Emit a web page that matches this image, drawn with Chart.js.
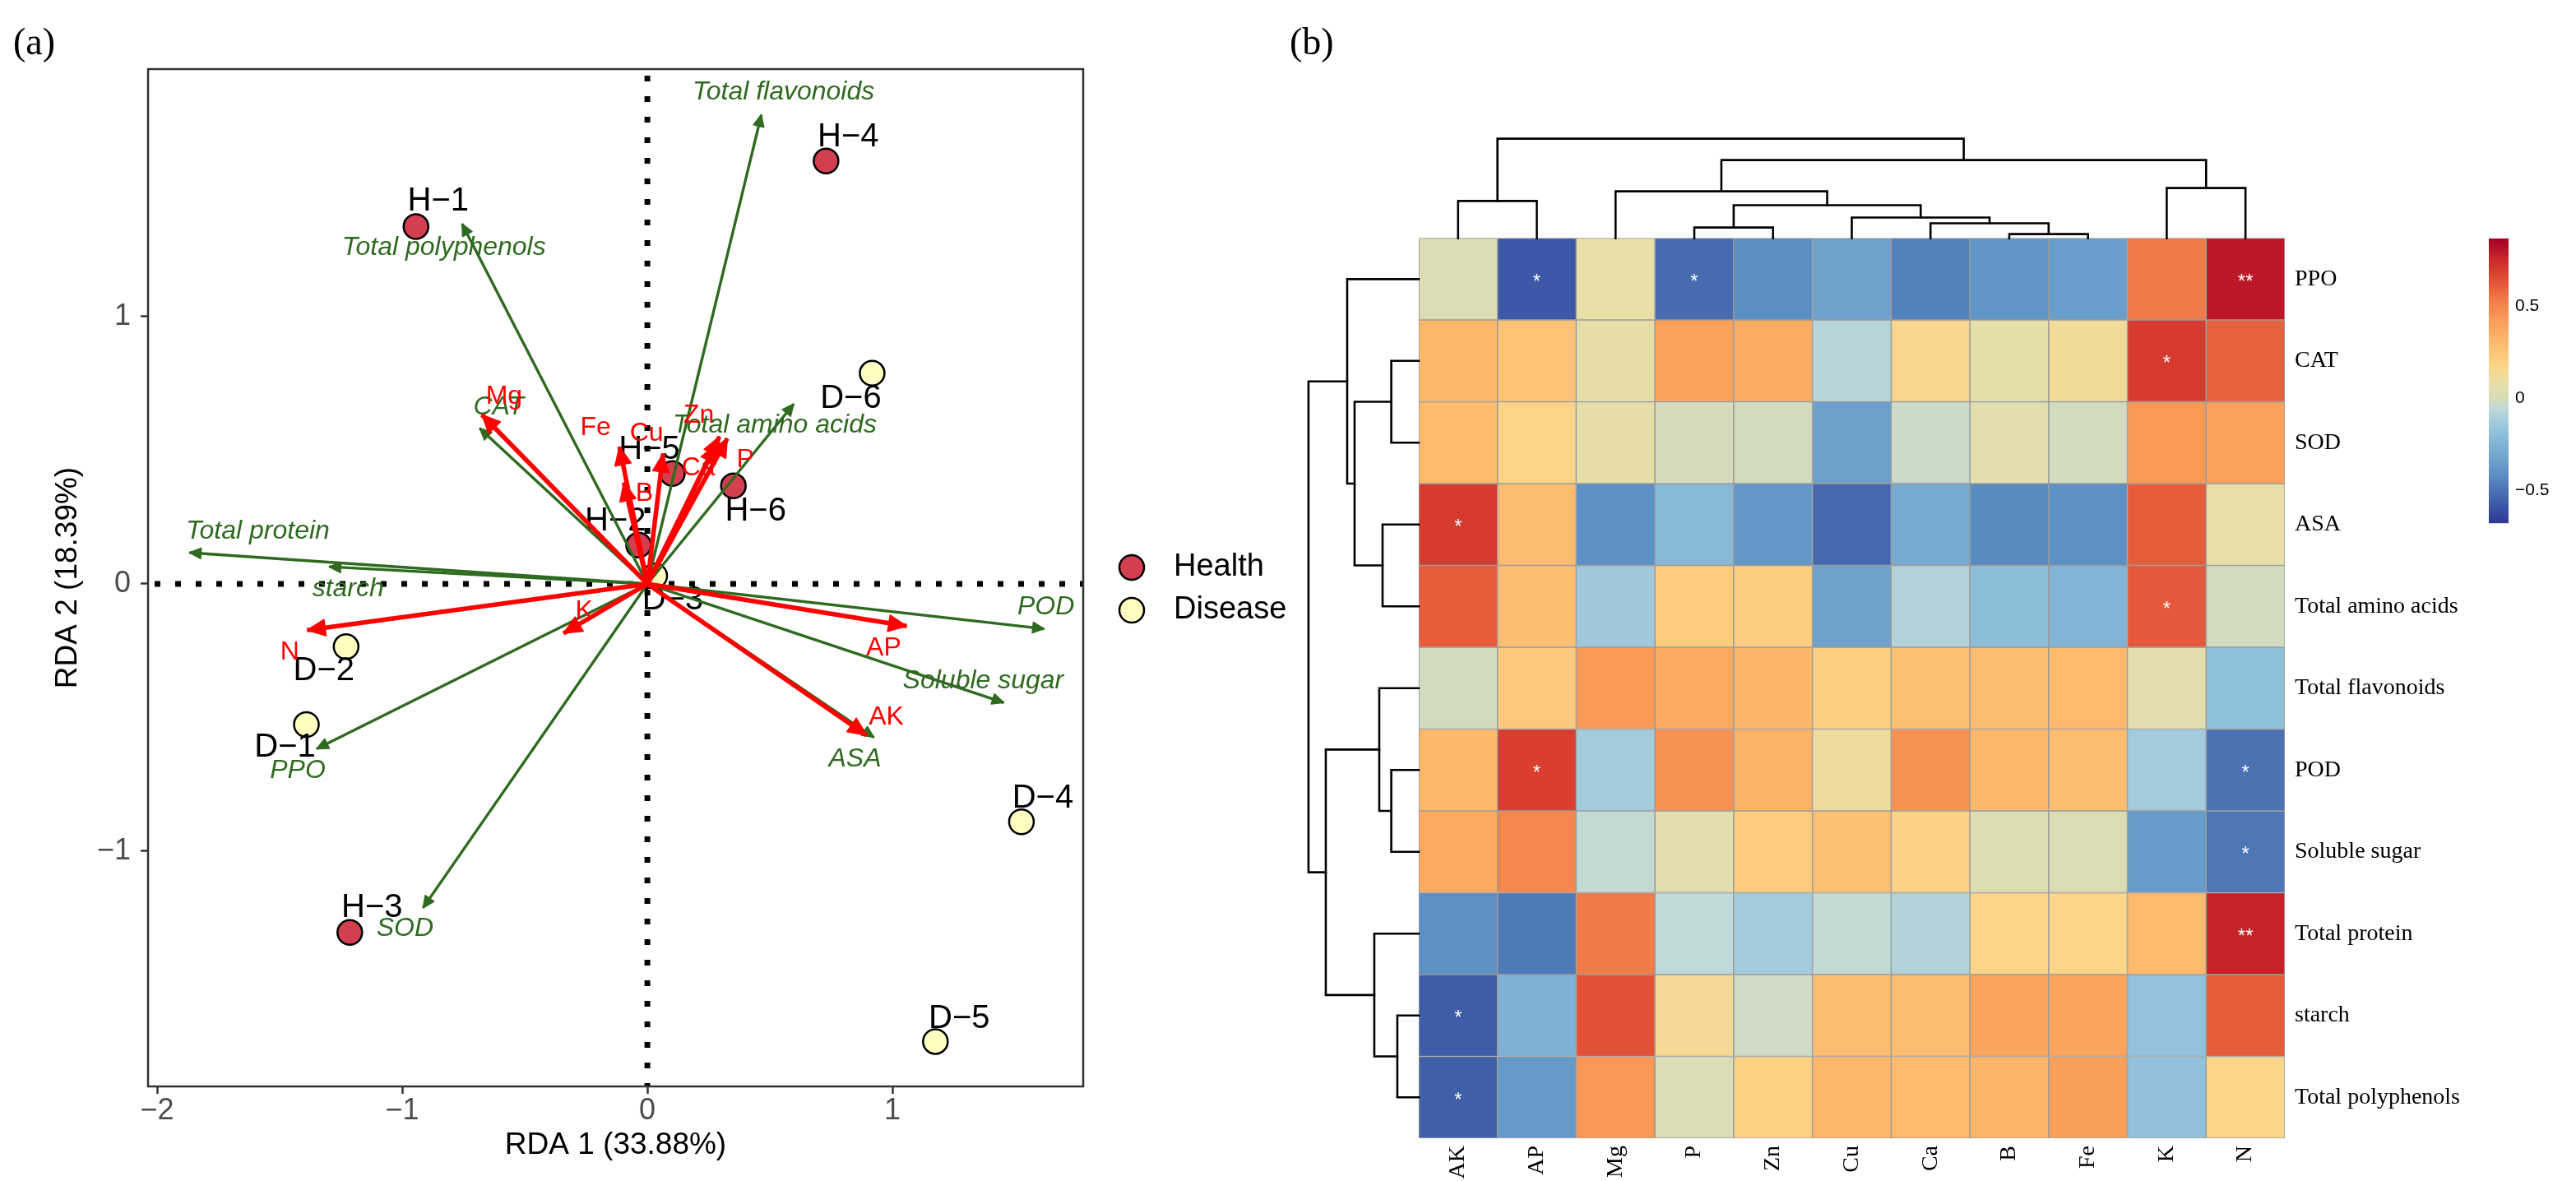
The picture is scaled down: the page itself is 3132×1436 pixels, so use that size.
<!DOCTYPE html>
<html>
<head>
<meta charset="utf-8">
<script src="https://cdn.jsdelivr.net/npm/chart.js@4.4.0/dist/chart.umd.min.js"></script>
<style>
  body { margin: 0; background: #fff; }
  #wrap { position: relative; width: 3132px; height: 1436px; overflow: hidden; background: #fff; }
  canvas { position: absolute; top: 0; }
  #rda { left: 0; }
  #heat { left: 1560px; }
  .tag { position: absolute; font-family: "Liberation Serif", serif; font-size: 46px; line-height: 1; color: #000; }
</style>
</head>
<body>
<div id="wrap">
  <canvas id="rda" width="1590" height="1436"></canvas>
  <canvas id="heat" width="1572" height="1436"></canvas>
  <div class="tag" style="left:16px;top:28px">(a)</div>
  <div class="tag" style="left:1568px;top:28px">(b)</div>
</div>
<script>
// ---------- (a) RDA biplot data ----------
const sampleNames = ['H−1', 'H−2', 'H−3', 'H−4', 'H−5', 'H−6', 'D−1', 'D−2', 'D−3', 'D−4', 'D−5', 'D−6'];
const sampleGroup = ['Health', 'Health', 'Health', 'Health', 'Health', 'Health',
                     'Disease', 'Disease', 'Disease', 'Disease', 'Disease', 'Disease'];
const sampleX = [-0.944, -0.036, -1.214, 0.729, 0.102, 0.351, -1.391, -1.229, 0.03, 1.526, 1.175, 0.917];
const sampleY = [1.337, 0.145, -1.304, 1.582, 0.413, 0.367, -0.526, -0.235, 0.03, -0.89, -1.712, 0.788];

const respNames = ['Total flavonoids', 'Total polyphenols', 'CAT', 'Total amino acids', 'Total protein',
                   'starch', 'POD', 'Soluble sugar', 'ASA', 'PPO', 'SOD'];
const respX = [0.465, -0.756, -0.684, 0.597, -1.868, -1.298, 1.619, 1.454, 0.924, -1.349, -0.915];
const respY = [1.755, 1.347, 0.582, 0.673, 0.117, 0.064, -0.168, -0.444, -0.574, -0.617, -1.212];

const envNames = ['Mg', 'Fe', 'B', 'Cu', 'Zn', 'Ca', 'P', 'K', 'N', 'AP', 'AK'];
const envX = [-0.675, -0.114, -0.096, 0.064, 0.294, 0.282, 0.326, -0.342, -1.388, 1.058, 0.894];
const envY = [0.633, 0.513, 0.379, 0.487, 0.551, 0.523, 0.544, -0.185, -0.173, -0.158, -0.566];

const rdaXTicks = [-2, -1, 0, 1];
const rdaYTicks = [-1, 0, 1];

// label nudges in pixels (layout only)
const sampleLabelOffset = [[27, -30], [-28, -29], [27, -30], [27, -29], [-28, -29], [27, 31],
                           [-26, 28], [-27, 30], [22, 30], [26, -28], [29, -27], [-26, 31]];
const respLabelOffset = [[27, -27], [-22, 29], [23, -26], [-23, 26], [83, -26], [23, 27],
                         [2, -26], [-25, -26], [-23, 27], [-23, 27], [-22, 25]];
const envLabelOffset = [[27, -22], [-29, -23], [25, 13], [-20, -25], [-25, -26], [-22, 29],
                        [22, 26], [25, -27], [-21, 27], [-28, 27], [24, -22]];

// ---------- (b) heatmap data ----------
const heatCols = ['AK', 'AP', 'Mg', 'P', 'Zn', 'Cu', 'Ca', 'B', 'Fe', 'K', 'N'];
const heatRows = ['PPO', 'CAT', 'SOD', 'ASA', 'Total amino acids', 'Total flavonoids', 'POD',
                  'Soluble sugar', 'Total protein', 'starch', 'Total polyphenols'];
const corPPO     = [0.02, -0.58, 0.08, -0.52, -0.42, -0.33, -0.46, -0.39, -0.35, 0.54, 0.80];
const corCAT     = [0.31, 0.26, 0.07, 0.40, 0.36, -0.08, 0.16, 0.06, 0.13, 0.70, 0.60];
const corSOD     = [0.30, 0.17, 0.07, 0.00, -0.01, -0.34, -0.03, 0.05, -0.01, 0.43, 0.40];
const corASA     = [0.70, 0.29, -0.41, -0.22, -0.38, -0.53, -0.29, -0.43, -0.41, 0.61, 0.08];
const corAmino   = [0.61, 0.28, -0.14, 0.22, 0.21, -0.33, -0.09, -0.20, -0.24, 0.62, -0.01];
const corFlav    = [-0.01, 0.23, 0.43, 0.37, 0.32, 0.20, 0.27, 0.29, 0.30, 0.05, -0.19];
const corPOD     = [0.31, 0.69, -0.13, 0.46, 0.33, 0.11, 0.46, 0.31, 0.29, -0.13, -0.50];
const corSugar   = [0.37, 0.50, -0.05, 0.05, 0.22, 0.27, 0.18, 0.03, 0.02, -0.36, -0.49];
const corProtein = [-0.41, -0.48, 0.54, -0.06, -0.13, -0.05, -0.09, 0.17, 0.17, 0.30, 0.77];
const corStarch  = [-0.57, -0.26, 0.64, 0.14, -0.02, 0.29, 0.29, 0.39, 0.39, -0.17, 0.61];
const corPoly    = [-0.56, -0.37, 0.44, 0.01, 0.19, 0.31, 0.30, 0.32, 0.41, -0.18, 0.17];
const heatValues = [corPPO, corCAT, corSOD, corASA, corAmino, corFlav, corPOD, corSugar, corProtein, corStarch, corPoly];

const sigMarks = [
  ['PPO', 'AP', '*'], ['PPO', 'P', '*'], ['PPO', 'N', '**'], ['CAT', 'K', '*'],
  ['ASA', 'AK', '*'], ['Total amino acids', 'K', '*'], ['POD', 'AP', '*'], ['POD', 'N', '*'],
  ['Soluble sugar', 'N', '*'], ['Total protein', 'N', '**'], ['starch', 'AK', '*'],
  ['Total polyphenols', 'AK', '*']
];

// hclust-style merges: negative = leaf (1-based), positive = earlier merge; third = height (0..1)
const colMerge = [[-8, -9, 0.041], [-7, 1, 0.149], [-6, 2, 0.207], [-4, -5, 0.107], [4, 3, 0.331],
                  [-3, 5, 0.471], [-10, -11, 0.504], [-1, -2, 0.374], [6, 7, 0.785], [8, 9, 1.0]];
const rowMerge = [[-2, -3, 0.249], [-4, -5, 0.328], [1, 2, 0.582], [-1, 3, 0.649], [-7, -8, 0.249],
                  [-6, 5, 0.358], [-10, -11, 0.194], [-9, 7, 0.403], [6, 8, 0.843], [4, 9, 1.0]];

const legendTicks = [-0.5, 0, 0.5];
const legendMin = -0.68, legendMax = 0.87;

// ---------- styles ----------
const GREEN = '#2E6A1F';
const RED = '#FF0000';
const HEALTH = '#D43F4F';
const DISEASE = '#FFFFC2';
const SANS = '"Liberation Sans", Arial, sans-serif';
const SERIF = '"Liberation Serif", "Times New Roman", serif';
Chart.defaults.font.family = SANS;

const heatStops = [
  [-0.68, '#313695'], [-0.56, '#3F5FA9'], [-0.42, '#5B8EC3'], [-0.30, '#74A9CF'], [-0.17, '#93C3DC'],
  [-0.06, '#BFD9D8'], [0.01, '#DADCB6'], [0.09, '#EADFA5'], [0.18, '#FCD386'], [0.31, '#FDB86B'],
  [0.43, '#F99A57'], [0.54, '#F27A48'], [0.64, '#E25036'], [0.75, '#CC2A2A'], [0.87, '#A50026']
];
function hexRgb(c) { return [1, 3, 5].map(i => parseInt(c.substr(i, 2), 16)); }
function corColor(v) {
  if (v <= heatStops[0][0]) return heatStops[0][1];
  for (let i = 1; i < heatStops.length; i++) {
    if (v <= heatStops[i][0]) {
      const [v0, c0] = heatStops[i - 1], [v1, c1] = heatStops[i];
      const t = (v - v0) / (v1 - v0);
      const a = hexRgb(c0), b = hexRgb(c1);
      return 'rgb(' + a.map((x, k) => Math.round(x + (b[k] - x) * t)).join(',') + ')';
    }
  }
  return heatStops[heatStops.length - 1][1];
}
const minus = v => String(v).replace('-', '−');

function arrowHead(ctx, x0, y0, x1, y1, len, half, color) {
  const a = Math.atan2(y1 - y0, x1 - x0);
  const c = Math.cos(a), s = Math.sin(a);
  ctx.save();
  ctx.fillStyle = color;
  ctx.strokeStyle = color;
  ctx.lineWidth = 1.5;
  ctx.lineJoin = 'round';
  ctx.beginPath();
  ctx.moveTo(x1, y1);
  ctx.lineTo(x1 - len * c + half * s, y1 - len * s - half * c);
  ctx.lineTo(x1 - len * c - half * s, y1 - len * s + half * c);
  ctx.closePath();
  ctx.fill();
  ctx.stroke();
  ctx.restore();
}

// ---------- (a) chart ----------
const groups = [['Health', HEALTH], ['Disease', DISEASE]];
const pointSets = groups.map(([g, col]) => {
  const ids = sampleGroup.map((x, i) => x === g ? i : -1).filter(i => i >= 0);
  return {
    kind: 'sample', ids: ids, label: g,
    data: ids.map(i => ({x: sampleX[i], y: sampleY[i]})),
    pointRadius: 15, pointBorderWidth: 2.5, pointBorderColor: '#000',
    pointBackgroundColor: col, showLine: false, order: 3
  };
});
const respSets = respNames.map((n, i) => ({
  kind: 'resp', idx: i, label: n,
  data: [{x: 0, y: 0}, {x: respX[i], y: respY[i]}],
  showLine: true, borderColor: GREEN, borderWidth: 3.4, pointRadius: 0, order: 2
}));
const envSets = envNames.map((n, i) => ({
  kind: 'env', idx: i, label: n,
  data: [{x: 0, y: 0}, {x: envX[i], y: envY[i]}],
  showLine: true, borderColor: RED, borderWidth: 5.5, pointRadius: 0, order: 1
}));

const rdaDecor = {
  id: 'rdaDecor',
  beforeDatasetsDraw(chart) {
    const {ctx, chartArea: a, scales: {x, y}} = chart;
    ctx.save();
    ctx.strokeStyle = '#000';
    ctx.lineWidth = 7;
    ctx.setLineDash([7, 18]);
    const x0 = x.getPixelForValue(0), y0 = y.getPixelForValue(0);
    ctx.beginPath(); ctx.moveTo(x0, a.top + 8); ctx.lineTo(x0, a.bottom); ctx.stroke();
    ctx.beginPath(); ctx.moveTo(a.left + 8, y0); ctx.lineTo(a.right, y0); ctx.stroke();
    ctx.restore();
  },
  afterDatasetDraw(chart, args) {
    const ds = chart.data.datasets[args.index];
    const pts = args.meta.data;
    const ctx = chart.ctx;
    ctx.save();
    ctx.textAlign = 'center';
    ctx.textBaseline = 'middle';
    if (ds.kind === 'sample') {
      ctx.font = '40px ' + SANS;
      ctx.fillStyle = '#000';
      ds.ids.forEach((id, k) => {
        const off = sampleLabelOffset[id];
        ctx.fillText(sampleNames[id], pts[k].x + off[0], pts[k].y + off[1]);
      });
    } else if (ds.kind === 'resp') {
      arrowHead(ctx, pts[0].x, pts[0].y, pts[1].x, pts[1].y, 14, 6.5, GREEN);
      ctx.font = 'italic 32px ' + SANS;
      ctx.fillStyle = GREEN;
      const off = respLabelOffset[ds.idx];
      ctx.fillText(respNames[ds.idx], pts[1].x + off[0], pts[1].y + off[1]);
    } else if (ds.kind === 'env') {
      arrowHead(ctx, pts[0].x, pts[0].y, pts[1].x, pts[1].y, 22, 10, RED);
      ctx.font = '32px ' + SANS;
      ctx.fillStyle = RED;
      const off = envLabelOffset[ds.idx];
      ctx.fillText(envNames[ds.idx], pts[1].x + off[0], pts[1].y + off[1]);
    }
    ctx.restore();
  },
  afterDraw(chart) {
    const {ctx, chartArea: a} = chart;
    ctx.save();
    ctx.strokeStyle = '#333';
    ctx.lineWidth = 2.5;
    ctx.strokeRect(a.left, a.top, a.right - a.left, a.bottom - a.top);
    // legend
    ctx.font = '38px ' + SANS;
    ctx.textBaseline = 'middle';
    ctx.textAlign = 'left';
    groups.forEach(([g, col], k) => {
      const cy = 690 + k * 52;
      ctx.beginPath();
      ctx.arc(1376, cy, 15, 0, Math.PI * 2);
      ctx.fillStyle = col; ctx.fill();
      ctx.lineWidth = 2.5; ctx.strokeStyle = '#000'; ctx.stroke();
      ctx.fillStyle = '#000';
      ctx.fillText(g, 1427, cy);
    });
    ctx.restore();
  }
};

new Chart(document.getElementById('rda'), {
  type: 'scatter',
  data: {datasets: [...pointSets, ...respSets, ...envSets]},
  options: {
    responsive: false, animation: false, devicePixelRatio: 1,
    layout: {padding: {left: 0, right: 273, top: 84, bottom: 0}},
    plugins: {legend: {display: false}, tooltip: {enabled: false}},
    scales: {
      x: {
        type: 'linear', min: -2.037, max: 1.778,
        afterBuildTicks: s => { s.ticks = rdaXTicks.map(v => ({value: v})); },
        afterFit: s => { s.height = 115; },
        ticks: {color: '#4D4D4D', padding: 3, font: {size: 36, lineHeight: 1}, callback: v => minus(v)},
        grid: {drawOnChartArea: false, drawTicks: true, tickLength: 9, tickColor: '#333', tickWidth: 2.5},
        border: {display: false},
        title: {display: true, text: 'RDA 1 (33.88%)', color: '#000', font: {size: 37, lineHeight: 1.2},
                padding: {top: 0, bottom: 21}}
      },
      y: {
        type: 'linear', min: -1.88, max: 1.926,
        afterBuildTicks: s => { s.ticks = rdaYTicks.map(v => ({value: v})); },
        afterFit: s => { s.width = 180; },
        ticks: {color: '#4D4D4D', padding: 12, font: {size: 36, lineHeight: 1}, callback: v => minus(v)},
        grid: {drawOnChartArea: false, drawTicks: true, tickLength: 9, tickColor: '#333', tickWidth: 2.5},
        border: {display: false},
        title: {display: true, text: 'RDA 2 (18.39%)', color: '#000', font: {size: 37, lineHeight: 1.2},
                padding: {top: 61, bottom: 0}}
      }
    }
  },
  plugins: [rdaDecor]
});

// ---------- (b) heatmap ----------
const colTreeSpan = 1.216;  // y units above the cells
const rowTreeSpan = 1.40;   // x units left of the cells

function drawTree(ctx, merges, leafPos, toPixel) {
  const pos = [], hgt = [];
  const node = k => k < 0 ? {p: leafPos(-k - 1), h: 0} : {p: pos[k - 1], h: hgt[k - 1]};
  merges.forEach(([a, b, h]) => {
    const A = node(a), B = node(b);
    ctx.beginPath();
    ctx.moveTo(...toPixel(A.p, A.h));
    ctx.lineTo(...toPixel(A.p, h));
    ctx.lineTo(...toPixel(B.p, h));
    ctx.lineTo(...toPixel(B.p, B.h));
    ctx.stroke();
    pos.push((A.p + B.p) / 2);
    hgt.push(h);
  });
}

const heatDecor = {
  id: 'heatDecor',
  afterDatasetsDraw(chart) {
    const {ctx, scales: {x, y}} = chart;
    ctx.save();
    ctx.fillStyle = '#fff';
    ctx.font = '24px ' + SANS;
    ctx.textAlign = 'center';
    ctx.textBaseline = 'middle';
    sigMarks.forEach(([r, c, m]) => {
      const ri = heatRows.indexOf(r), ci = heatCols.indexOf(c);
      ctx.fillText(m, x.getPixelForValue(ci + 0.5), y.getPixelForValue(10.5 - ri) + 4);
    });
    ctx.restore();
  },
  afterDraw(chart) {
    const {ctx, scales: {x, y}} = chart;
    ctx.save();
    ctx.strokeStyle = '#000';
    ctx.lineWidth = 2.6;
    ctx.lineCap = 'square';
    drawTree(ctx, colMerge, i => i + 0.5,
      (p, h) => [x.getPixelForValue(p), y.getPixelForValue(11 + h * colTreeSpan)]);
    drawTree(ctx, rowMerge, i => 10.5 - i,
      (p, h) => [x.getPixelForValue(-h * rowTreeSpan), y.getPixelForValue(p)]);
    // colour key
    const kx = 1466, kw = 24, ktop = 290, kbot = 636;
    const vToY = v => kbot - (v - legendMin) / (legendMax - legendMin) * (kbot - ktop);
    for (let py = ktop; py < kbot; py++) {
      const v = legendMin + (kbot - py - 0.5) / (kbot - ktop) * (legendMax - legendMin);
      ctx.fillStyle = corColor(v);
      ctx.fillRect(kx, py, kw, 1.2);
    }
    ctx.fillStyle = '#000';
    ctx.font = '21px ' + SANS;
    ctx.textAlign = 'left';
    ctx.textBaseline = 'middle';
    legendTicks.forEach(v => ctx.fillText(minus(v), kx + kw + 8, vToY(v)));
    ctx.restore();
  }
};

new Chart(document.getElementById('heat'), {
  type: 'bar',
  data: {
    datasets: heatRows.map((name, r) => ({
      label: name,
      data: heatCols.map((c, j) => ({x: j + 0.5, y: [10 - r, 11 - r]})),
      backgroundColor: heatValues[r].map(corColor),
      borderColor: '#9C9C9C',
      borderWidth: 1.1,
      borderSkipped: false,
      grouped: false,
      barPercentage: 1,
      categoryPercentage: 1
    }))
  },
  options: {
    responsive: false, animation: false, devicePixelRatio: 1,
    layout: {padding: {left: 29, right: 0, top: 168.6, bottom: 0}},
    plugins: {legend: {display: false}, tooltip: {enabled: false}},
    scales: {
      x: {
        type: 'linear', min: -1.42, max: 11, offset: false,
        afterBuildTicks: s => { s.ticks = heatCols.map((c, j) => ({value: j + 0.5})); },
        afterFit: s => { s.height = 52; },
        ticks: {autoSkip: false, minRotation: 90, maxRotation: 90, padding: 9, color: '#000',
                font: {family: SERIF, size: 28}, callback: (v, i) => heatCols[i]},
        grid: {display: false, drawTicks: false, offset: false},
        border: {display: false}
      },
      y: {
        type: 'linear', position: 'right', min: 0, max: 11 + colTreeSpan,
        afterBuildTicks: s => { s.ticks = heatRows.map((n, r) => ({value: 10.5 - r})); },
        afterFit: s => { s.width = 354; },
        ticks: {autoSkip: false, padding: 12, color: '#000',
                font: {family: SERIF, size: 28}, callback: (v, i) => heatRows[i]},
        grid: {display: false, drawTicks: false},
        border: {display: false}
      }
    }
  },
  plugins: [heatDecor]
});
</script>
</body>
</html>
